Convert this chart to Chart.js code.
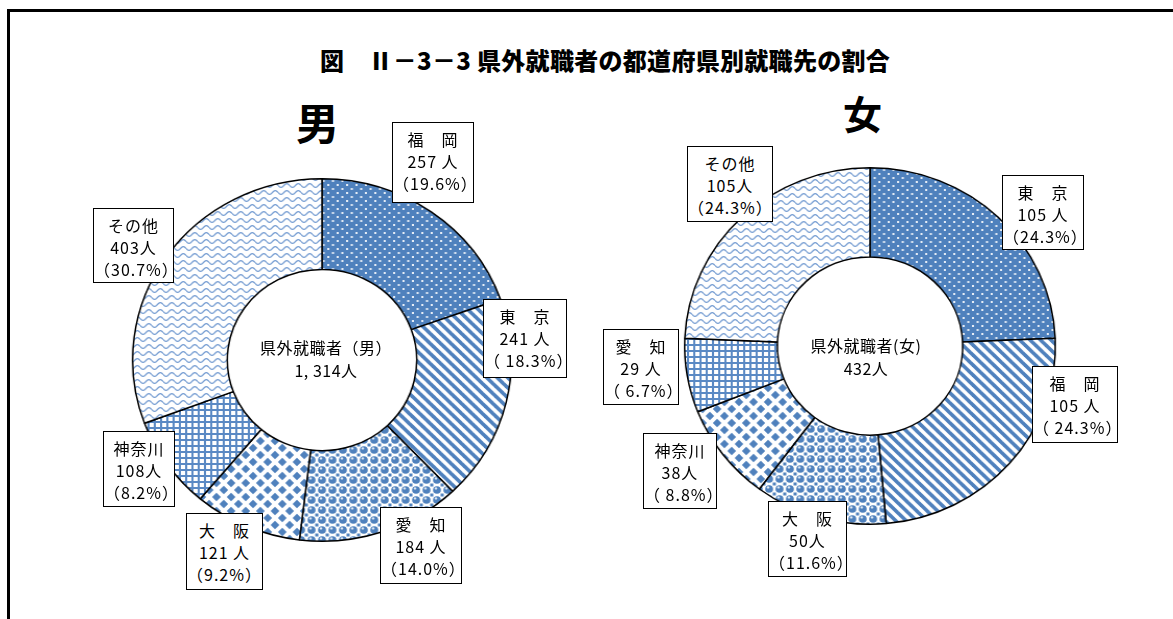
<!DOCTYPE html>
<html lang="ja">
<head>
<meta charset="utf-8">
<script src="https://cdn.jsdelivr.net/npm/chart.js@4.4.1/dist/chart.umd.min.js"></script>
<style>
  html, body { margin: 0; padding: 0; background: #fff; }
  body { width: 1173px; height: 619px; position: relative; overflow: hidden;
         font-family: "Noto Sans CJK JP", "Noto Sans", sans-serif; color: #000; }
  .frame { position: absolute; left: 7px; top: 9px; width: 1200px; height: 700px;
           border-left: 3px solid #000; border-top: 3px solid #000; }
  .title { position: absolute; left: 0; width: 1210px; top: 45px; text-align: center;
           font-size: 24px; font-weight: 900; line-height: 30px; letter-spacing: 0.3px; }
  .sex { position: absolute; font-weight: bold; line-height: 1; }
  .pie { position: absolute; }
  .lbl { position: absolute; box-sizing: border-box; background: #fff; border: 1.5px solid #000;
         text-align: center; font-size: 16px; line-height: 22px; padding-top: 5px; white-space: pre;
         letter-spacing: 1px; }
  .center { position: absolute; text-align: center; font-size: 16px; line-height: 23px; white-space: pre;
            letter-spacing: 0.5px; }
</style>
</head>
<body>
<div class="frame"></div>
<div class="title">図　Ⅱ－3－3 県外就職者の都道府県別就職先の割合</div>
<div class="sex" style="left:296px; top:100px; font-size:43px;">男</div>
<div class="sex" style="left:843px; top:93px; font-size:39px;">女</div>
<canvas id="male" class="pie" width="370" height="370"></canvas>
<canvas id="female" class="pie" width="364" height="364"></canvas>
<div id="labels"></div>

<script>
/* 男：時計回り（上から） */
var maleNames = ['福 岡', '東 京', '愛 知', '大 阪', '神奈川', 'その他'];
var maleCounts = [257, 241, 184, 121, 108, 403];
var malePct = ['19.6', '18.3', '14.0', '9.2', '8.2', '30.7'];
var maleTotal = '1, 314';

/* 女：時計回り（上から） */
var femaleNames = ['東 京', '福 岡', '大 阪', '神奈川', '愛 知', 'その他'];
var femaleCounts = [105, 105, 50, 38, 29, 105];
var femalePct = ['24.3', '24.3', '11.6', '8.8', '6.7', '24.3'];
var femaleTotal = '432';

/* 配置（ラベル枠 left, top, width, height） */
var maleBoxes = [[392, 122, 82, 81], [483, 299, 84, 79], [380, 507, 82, 77], [186, 513, 77, 77], [103, 431, 72, 76], [93, 208, 81, 75]];
var femaleBoxes = [[1002, 175, 82, 75], [1032, 366, 86, 77], [768, 501, 79, 76], [643, 433, 74, 76], [603, 329, 76, 76], [687, 146, 86, 76]];
var maleUnitGap = [' ', ' ', ' ', ' ', '', ''];
var femaleUnitGap = [' ', ' ', '', '', ' ', ''];
var malePctGap = ['', ' ', '', '', '', ''];
var femalePctGap = ['', ' ', '', ' ', ' ', ''];

var BLUE = '#4f81bd';

function tile(w, h, draw) {
  var c = document.createElement('canvas');
  c.width = w; c.height = h;
  var g = c.getContext('2d');
  draw(g, w, h);
  return g.createPattern(c, 'repeat');
}

function diamond(g, x, y, r) {
  g.beginPath();
  g.moveTo(x, y - r); g.lineTo(x + r, y); g.lineTo(x, y + r); g.lineTo(x - r, y);
  g.closePath(); g.fill();
}

var patterns = [
  /* 点 */
  tile(9, 8, function (g) {
    g.fillStyle = BLUE; g.fillRect(0, 0, 9, 8);
    g.fillStyle = 'rgba(255,255,255,0.85)';
    g.fillRect(1, 1, 2, 2); g.fillRect(5.5, 5, 2, 2);
  }),
  /* 斜線 */
  tile(10, 10, function (g) {
    g.fillStyle = '#fff'; g.fillRect(0, 0, 10, 10);
    g.strokeStyle = BLUE; g.lineWidth = 3.6;
    for (var k = -1; k <= 1; k++) {
      g.beginPath(); g.moveTo(k * 10 - 2, -2); g.lineTo(k * 10 + 12, 12); g.stroke();
    }
  }),
  /* 球 */
  tile(10, 10, function (g) {
    g.fillStyle = '#fff'; g.fillRect(0, 0, 10, 10);
    g.fillStyle = BLUE;
    g.beginPath(); g.arc(5, 5, 3.8, 0, Math.PI * 2); g.fill();
    g.fillRect(0, 0, 1.5, 1.5); g.fillRect(8.5, 0, 1.5, 1.5); g.fillRect(0, 8.5, 1.5, 1.5); g.fillRect(8.5, 8.5, 1.5, 1.5);
    g.fillStyle = 'rgba(255,255,255,0.8)';
    g.beginPath(); g.arc(4, 3.4, 1.2, 0, Math.PI * 2); g.fill();
  }),
  /* ひし形 */
  tile(14, 14, function (g) {
    g.fillStyle = '#fff'; g.fillRect(0, 0, 14, 14);
    g.fillStyle = BLUE;
    diamond(g, 7, 7, 4.2);
    diamond(g, 0, 0, 4.2); diamond(g, 14, 0, 4.2); diamond(g, 0, 14, 4.2); diamond(g, 14, 14, 4.2);
  }),
  /* 格子 */
  tile(6, 6, function (g) {
    g.fillStyle = '#5a89c4'; g.fillRect(0, 0, 6, 6);
    g.fillStyle = '#fff'; g.fillRect(2, 2, 4, 4);
  }),
  /* 波 */
  tile(11, 7, function (g) {
    g.fillStyle = '#fff'; g.fillRect(0, 0, 11, 7);
    g.strokeStyle = '#7aa0d4'; g.lineWidth = 1.3;
    g.beginPath();
    for (var x = 0; x <= 11; x += 0.5) {
      var y = 3.5 + 1.8 * Math.sin(2 * Math.PI * x / 11);
      if (x === 0) g.moveTo(x, y); else g.lineTo(x, y);
    }
    g.stroke();
  })
];

function place(id, cx, cy, size, sx) {
  var c = document.getElementById(id);
  c.style.left = (cx - size / 2) + 'px';
  c.style.top = (cy - size / 2) + 'px';
  c.style.transform = 'scaleX(' + sx + ')';
  c.style.transformOrigin = 'center center';
}

function makeDoughnut(id, names, counts) {
  return new Chart(document.getElementById(id), {
    type: 'doughnut',
    data: {
      labels: names,
      datasets: [{ data: counts, backgroundColor: patterns, borderColor: '#000', borderWidth: 1.5, hoverOffset: 0 }]
    },
    options: {
      responsive: false, animation: false, cutout: '50%', events: [],
      layout: { padding: 3 },
      plugins: { legend: { display: false }, tooltip: { enabled: false } }
    }
  });
}

place('male', 322, 360, 370, 1.045);
place('female', 870, 346, 364, 1.04);
makeDoughnut('male', maleNames, maleCounts);
makeDoughnut('female', femaleNames, femaleCounts);

var box = document.getElementById('labels');
function addLabels(names, counts, pct, boxes, unitGap, pctGap) {
  names.forEach(function (n, i) {
    var b = boxes[i];
    var d = document.createElement('div');
    d.className = 'lbl';
    d.style.left = b[0] + 'px'; d.style.top = b[1] + 'px';
    d.style.width = b[2] + 'px'; d.style.height = b[3] + 'px';
    d.textContent = n.replace(' ', '　') + '\n' + counts[i] + unitGap[i] + '人' + '\n' + '（' + pctGap[i] + pct[i] + '%）';
    box.appendChild(d);
  });
}
addLabels(maleNames, maleCounts, malePct, maleBoxes, maleUnitGap, malePctGap);
addLabels(femaleNames, femaleCounts, femalePct, femaleBoxes, femaleUnitGap, femalePctGap);

function addCenter(cx, top, text) {
  var d = document.createElement('div');
  d.className = 'center';
  d.style.left = (cx - 90) + 'px'; d.style.top = top + 'px'; d.style.width = '180px';
  d.textContent = text;
  box.appendChild(d);
}
addCenter(326, 336, '県外就職者（男）\n' + maleTotal + '人');
addCenter(866, 334, '県外就職者(女)\n' + femaleTotal + '人');
</script>
</body>
</html>
